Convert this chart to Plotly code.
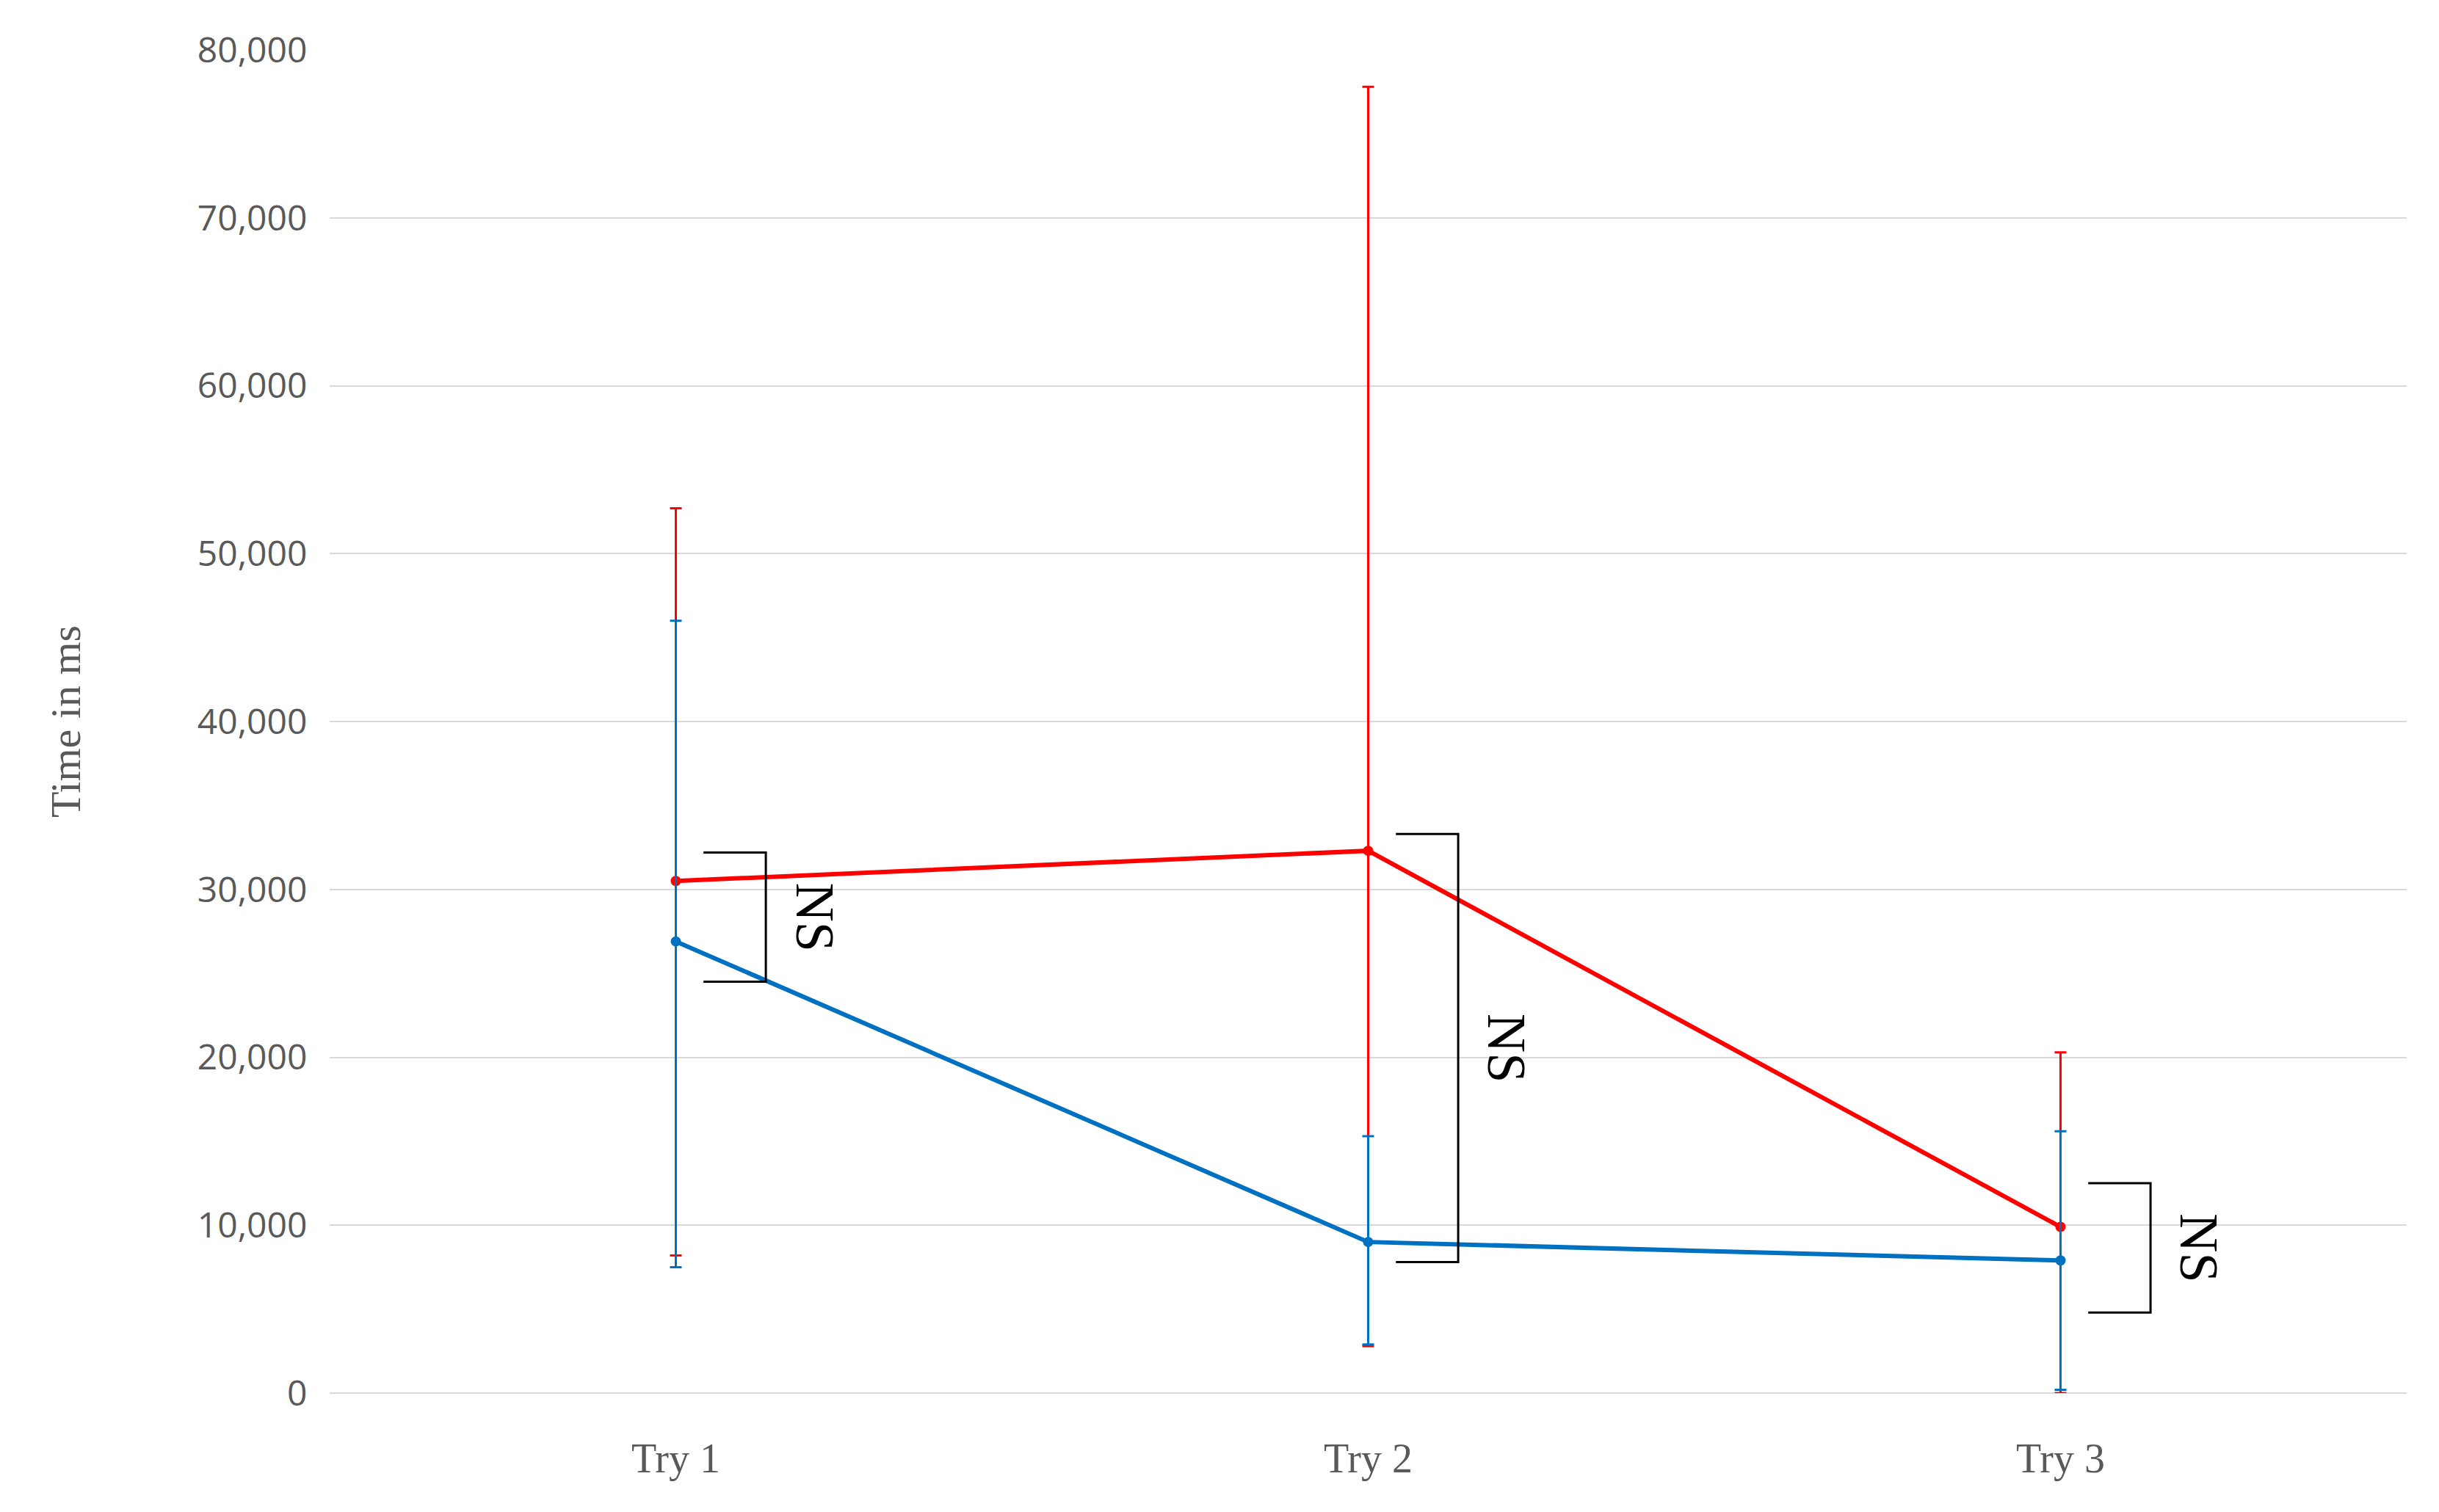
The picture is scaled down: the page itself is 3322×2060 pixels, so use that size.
import plotly.graph_objects as go

categories = ["Try 1", "Try 2", "Try 3"]
red_mean = [30500, 32300, 9900]
red_upper = [52700, 77800, 20300]
red_lower = [8200, 2800, 0]
blue_mean = [26900, 9000, 7900]
blue_upper = [46000, 15300, 15600]
blue_lower = [7500, 2900, 200]
y_ticks = [0, 10000, 20000, 30000, 40000, 50000, 60000, 70000, 80000]
# brackets: (category index, top, bottom)
brackets = [(0, 32200, 24500), (1, 33300, 7800), (2, 12500, 4800)]

fig = go.Figure()
for mean, up, lo, col in [(red_mean, red_upper, red_lower, "#FF0000"),
                          (blue_mean, blue_upper, blue_lower, "#0070C0")]:
    fig.add_trace(go.Scatter(
        x=[0, 1, 2], y=mean, mode="lines+markers",
        line=dict(color=col, width=6), marker=dict(color=col, size=14),
        error_y=dict(type="data", symmetric=False,
                     array=[u - m for u, m in zip(up, mean)],
                     arrayminus=[m - l for m, l in zip(mean, lo)],
                     color=col, thickness=3, width=8),
        showlegend=False))

for i, top, bot in brackets:
    x0, x1 = i + 0.04, i + 0.13
    fig.add_shape(type="path", path=f"M {x0} {top} L {x1} {top} L {x1} {bot} L {x0} {bot}",
                  line=dict(color="black", width=3))
    fig.add_annotation(x=x1 + 0.07, y=(top + bot) / 2, text="NS", showarrow=False,
                       textangle=90, font=dict(family="Liberation Serif", size=74, color="black"))

fig.update_layout(
    width=3322, height=2060, plot_bgcolor="white", paper_bgcolor="white",
    margin=dict(l=441, r=52, t=60, b=170),
    xaxis=dict(range=[-0.5, 2.5], tickvals=[0, 1, 2], ticktext=categories,
               showgrid=False, zeroline=False, ticks="outside", ticklen=40, tickcolor="white",
               tickfont=dict(family="Liberation Serif", size=56, color="#595959")),
    yaxis=dict(range=[0, 80000], tickvals=y_ticks, tickformat=",", showgrid=True,
               gridcolor="#D9D9D9", gridwidth=2, zeroline=True, zerolinecolor="#D9D9D9",
               zerolinewidth=2, ticks="outside", ticklen=20, tickcolor="white",
               tickfont=dict(family="Open Sans", size=48, color="#595959"),
               title=dict(text="Time in ms", standoff=140,
                          font=dict(family="Liberation Serif", size=58, color="#595959"))),
)
fig.write_html("out.html")
